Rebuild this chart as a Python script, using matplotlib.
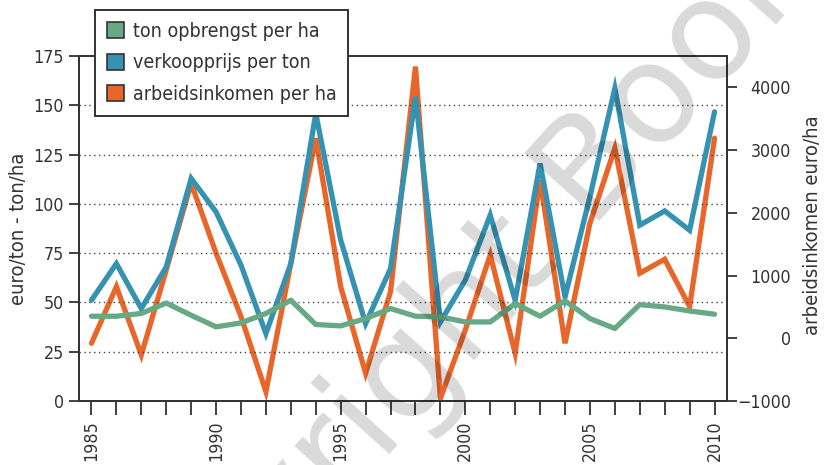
import matplotlib
matplotlib.use('Agg')
import matplotlib.pyplot as plt
from matplotlib.patches import Patch
from matplotlib import font_manager

# data
years = list(range(1985, 2011))
ton_per_ha = [43.0, 43.0, 44.4, 49.7, 43.5, 37.6, 39.6, 44.4, 51.1, 38.8,
              38.1, 41.8, 46.9, 43.0, 42.7, 40.1, 40.1, 49.4, 43.0, 50.8,
              41.8, 36.8, 48.9, 47.7, 45.7, 44.0]
prijs_per_ton = [51.1, 69.7, 46.9, 68.0, 112.9, 95.9, 68.9, 34.2, 69.7, 145.9,
                 81.6, 39.3, 67.2, 154.3, 40.1, 61.3, 94.3, 51.1, 120.5, 52.8,
                 103.6, 158.6, 89.2, 96.4, 86.6, 146.7]
inkomen_per_ha = [-80, 823, -266, 1089, 2472, 1356, 345, -852, 1196, 3190,
                  823, -558, 743, 4332, -957, 132, 1329, -239, 2525, -80,
                  1834, 3031, 1037, 1260, 504, 3190]

series_labels = ['ton opbrengst per ha', 'verkoopprijs per ton', 'arbeidsinkomen per ha']
c_green = '#66a984'
c_blue = '#3592b1'
c_orange = '#e8662a'

# narrower face if DejaVu Sans Condensed is installed
plt.rcParams['font.family'] = ['DejaVu Sans']
path = font_manager.findfont(font_manager.FontProperties(family='DejaVu Sans',
                                                          stretch='condensed'))
if 'Condensed' in path:
    plt.rcParams['font.stretch'] = 'condensed'
    fs_tick, fs_lab, fs_leg = 12.8, 14.5, 14
else:
    fs_tick, fs_lab, fs_leg = 11.5, 13.5, 13

txt = '#333333'
fig = plt.figure(figsize=(8.26, 4.65), dpi=100)
ax = fig.add_axes([79 / 826, 1 - 401 / 465, (727 - 79) / 826, (401 - 56) / 465])
ax2 = ax.twinx()
ax.set_zorder(ax2.get_zorder() + 1)
ax.patch.set_visible(False)

lw = 3.8
ax2.plot(years, inkomen_per_ha, color=c_orange, lw=lw, solid_joinstyle='miter',
         solid_capstyle='round')
ax.plot(years, prijs_per_ton, color=c_blue, lw=lw, solid_joinstyle='miter',
        solid_capstyle='round', zorder=3)
ax.plot(years, ton_per_ha, color=c_green, lw=lw, solid_capstyle='round', zorder=4)

ax.set_xlim(1984.5, 2010.5)
ax.set_ylim(0, 175)
ax2.set_ylim(-1000, 4500)

ax.set_yticks(range(0, 176, 25))
ax2.set_yticks(range(-1000, 4001, 1000))
ax.set_xticks(years)
ax.set_xticklabels([str(y) if y % 5 == 0 else '' for y in years], rotation=90)

for gy in range(25, 151, 25):
    ax.axhline(gy, color='#444444', lw=1.0, ls=(0, (1, 2.5)), zorder=1)

for a in (ax, ax2):
    for s in a.spines.values():
        s.set_color('#333333')
        s.set_linewidth(1.3)

ax.tick_params(axis='y', direction='out', length=7, width=1.3, color='#333333',
               labelsize=fs_tick, labelcolor=txt, pad=4)
ax.tick_params(axis='x', direction='out', length=10, width=1.3, color='#333333',
               labelsize=fs_tick, labelcolor=txt, pad=4)
ax2.tick_params(axis='y', direction='out', length=7, width=1.3, color='#333333',
                labelsize=fs_tick, labelcolor=txt, pad=39)
for t in ax2.get_yticklabels():
    t.set_horizontalalignment('right')

ax.set_ylabel('euro/ton - ton/ha', fontsize=fs_lab, color=txt, labelpad=4)
fig.text(813 / 826, 1 - 225 / 465, 'arbeidsinkomen euro/ha', rotation=90,
         fontsize=fs_lab, color=txt, ha='center', va='center')

handles = [Patch(facecolor=c, edgecolor='#333333', linewidth=1.2)
           for c in (c_green, c_blue, c_orange)]
leg = fig.legend(handles, series_labels, loc='upper left',
                 bbox_to_anchor=(95 / 826, 1 - 10 / 465), fontsize=fs_leg,
                 frameon=True, fancybox=False, framealpha=1, edgecolor='#333333',
                 handlelength=0.9, handleheight=0.9, handletextpad=0.45,
                 labelspacing=0.65, borderpad=0.6, borderaxespad=0)
leg.get_frame().set_linewidth(1.4)
for t in leg.get_texts():
    t.set_color(txt)

# publisher watermark laid over the chart (runs off the edges, as in the original)
fig.text(455 / 826, 1 - 325 / 465, 'Copyright Boom', rotation=48,
         rotation_mode='anchor', ha='center', va='center', fontsize=100,
         color='black', alpha=0.15, zorder=10, fontstretch='normal')

fig.savefig('out.png', dpi=100, facecolor='white')
